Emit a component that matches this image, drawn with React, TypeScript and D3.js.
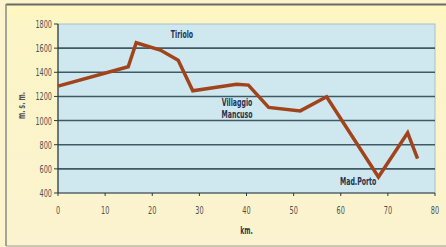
import React from 'react';
import * as d3 from 'd3';

const kmValues = [0, 14.9, 16.6, 21.7, 25.5, 28.6, 37.9, 40.4, 44.7, 51.4, 57.0, 68.0, 74.2, 76.3];
const elevValues = [1285, 1446, 1645, 1584, 1500, 1247, 1300, 1294, 1109, 1080, 1197, 533, 898, 685];
const yTicks = [400, 600, 800, 1000, 1200, 1400, 1600, 1800];
const xTicks = [0, 10, 20, 30, 40, 50, 60, 70, 80];
const placeNames = ['Tiriolo', 'Villaggio', 'Mancuso', 'Mad.Porto'];
const placeKm = [26.3, 38, 38, 63.7];
const placeElev = [1680, 1120, 1020, 465];

const font = '"DejaVu Sans Condensed", "Liberation Sans", Arial, sans-serif';

// narrow text, the reference uses a condensed face
function T(props: {x: number, y: number, anchor?: string, size?: number, bold?: boolean, fill?: string, sx?: number, rot?: number, children: any}) {
  const sx = props.sx ?? 0.66;
  return (
    <text
      transform={`translate(${props.x},${props.y})${props.rot ? ` rotate(${props.rot})` : ''} scale(${sx},1)`}
      textAnchor={props.anchor || 'middle'}
      fontFamily={font}
      fontSize={props.size || 11}
      fontWeight={props.bold ? 'bold' : 'normal'}
      fill={props.fill || '#505050'}
    >{props.children}</text>
  );
}

export default function App() {
  const width = 446;
  const height = 247;
  const left = 58, right = 435, top = 24, bottom = 193;

  const x = d3.scaleLinear().domain([0, 80]).range([left, right]);
  const y = d3.scaleLinear().domain([400, 1800]).range([bottom, top]);

  const pts: [number, number][] = kmValues.map((k, i) => [k, elevValues[i]]);
  const line = d3.line<[number, number]>()
    .x(d => x(d[0]))
    .y(d => y(d[1]));

  return (
    <svg width={width} height={height} style={{position: 'absolute', left: 0, top: 0}}>
      <defs>
        <linearGradient id="bg" x1="0" y1="0" x2="0" y2="1">
          <stop offset="0" stopColor="#fef8bf" />
          <stop offset="0.08" stopColor="#fcf5c6" />
          <stop offset="1" stopColor="#fbf3cf" />
        </linearGradient>
      </defs>
      <rect x={0} y={0} width={width} height={height} fill="#fbf4cd" />
      <rect x={6} y={4} width={width} height={242} fill="url(#bg)" />
      <line x1={6} x2={width} y1={4.5} y2={4.5} stroke="#6b6b66" strokeWidth={2} />
      <line x1={6} x2={6} y1={4} y2={246} stroke="#8a8a84" strokeWidth={1.5} />
      <line x1={6} x2={width} y1={246} y2={246} stroke="#9a9a92" strokeWidth={1} />

      <rect x={left} y={top} width={right - left} height={bottom - top} fill="#cfe8ef" stroke="#a9bfc4" strokeWidth={1} />

      {yTicks.filter(t => t > 400 && t < 1800).map(t => (
        <line key={'g' + t} x1={left} x2={right} y1={y(t)} y2={y(t)} stroke="#3f5a66" strokeWidth={1.6} />
      ))}

      <line x1={left} x2={left} y1={top} y2={bottom} stroke="#2b3a40" strokeWidth={1.2} />
      <line x1={left} x2={right} y1={bottom} y2={bottom} stroke="#2b3a40" strokeWidth={1.2} />

      {yTicks.map(t => (
        <g key={'y' + t}>
          <line x1={left - 4} x2={left} y1={y(t)} y2={y(t)} stroke="#2b3a40" strokeWidth={1} />
          <T x={left - 6} y={y(t) + 4} anchor="end">{t}</T>
        </g>
      ))}

      {xTicks.map(t => (
        <g key={'x' + t}>
          <line x1={x(t)} x2={x(t)} y1={bottom} y2={bottom + 3} stroke="#2b3a40" strokeWidth={1} />
          <T x={x(t)} y={214}>{t}</T>
        </g>
      ))}

      <T x={(left + right) / 2} y={234} size={10} bold fill="#2d3a55">km.</T>
      <T x={25} y={(top + bottom) / 2 - 3} rot={-90} size={10} bold fill="#555">m. s. m.</T>

      <path d={line(pts) || ''} fill="none" stroke="#a1441c" strokeWidth={3.5} strokeLinejoin="miter" />

      {placeNames.map((n, i) => (
        <T key={n} x={x(placeKm[i])} y={y(placeElev[i])} size={10.5} bold fill="#26324f">{n}</T>
      ))}
    </svg>
  );
}
